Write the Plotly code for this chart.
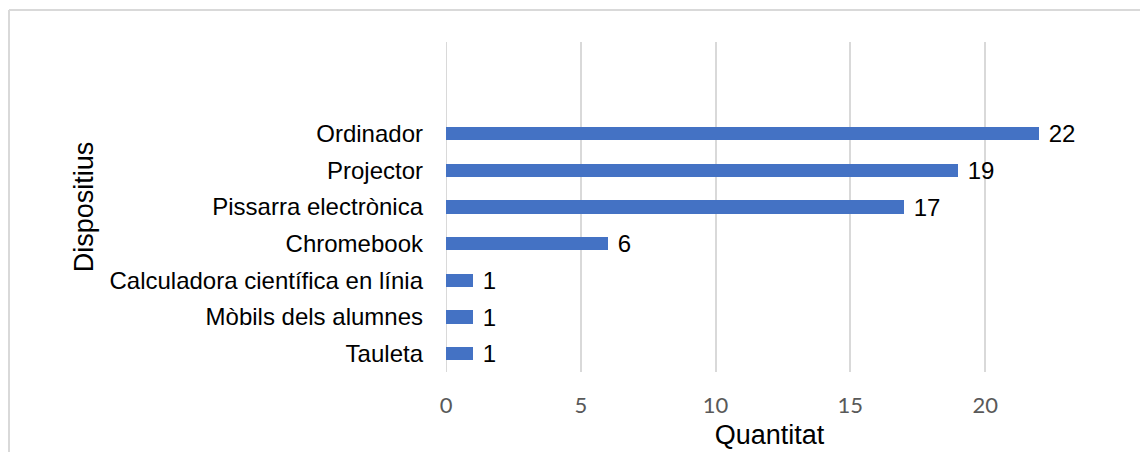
import plotly.graph_objects as go

# Device counts (bottom to top)
categories = ['Tauleta', 'Mòbils dels alumnes', 'Calculadora científica en línia',
              'Chromebook', 'Pissarra electrònica', 'Projector', 'Ordinador']
counts = [1, 1, 1, 6, 17, 19, 22]
x_ticks = [0, 5, 10, 15, 20]

bar_color = '#4472C4'
grid_color = '#d9d9d9'

# page body has an 8px margin, so the figure is sized to fit the window
W, H = 1140, 444
L, R, T, B = 438, 55, 34, 80
pw, ph = W - L - R, H - T - B

fig = go.Figure()

fig.add_trace(go.Bar(
    x=counts,
    y=list(range(len(categories))),
    orientation='h',
    width=0.36,
    marker=dict(color=bar_color, line=dict(width=0)),
    text=[f' {v}' for v in counts],
    textposition='outside',
    constraintext='none',
    textfont=dict(family='Liberation Sans, Arial', size=24, color='#000000'),
    cliponaxis=False,
    showlegend=False
))

fig.update_layout(
    width=W,
    height=H,
    paper_bgcolor='white',
    plot_bgcolor='white',
    margin=dict(l=L, r=R, t=T, b=B),
    bargap=0,
    xaxis=dict(
        range=[0, 24],
        tickvals=x_ticks,
        automargin=False,
        showgrid=True,
        gridcolor=grid_color,
        gridwidth=2,
        zeroline=False,
        showline=False,
        ticks='',
        ticklabelstandoff=18,
        tickfont=dict(family='Lato, Carlito, sans-serif', size=22, color='#595959'),
        title=dict(text='Quantitat', standoff=8,
                   font=dict(family='Liberation Sans, Arial', size=27, color='#000000'))
    ),
    yaxis=dict(
        range=[-0.5, 8.5],
        tickvals=list(range(len(categories))),
        ticktext=categories,
        automargin=False,
        showgrid=False,
        zeroline=False,
        showline=False,
        ticks='',
        ticklabelstandoff=22,
        tickfont=dict(family='Liberation Sans, Arial', size=24, color='#000000'),
        title=dict(text='Dispositius', standoff=8,
                   font=dict(family='Liberation Sans, Arial', size=27, color='#000000'))
    ),
    shapes=[
        # zero gridline
        dict(type='line', xref='x', yref='paper', x0=0, x1=0, y0=0, y1=1,
             line=dict(color=grid_color, width=2), layer='below'),
        # chart border (top and left edges)
        dict(type='line', xref='paper', yref='paper',
             x0=(1 - L) / pw, x1=(W - L) / pw,
             y0=(T + ph - 2) / ph, y1=(T + ph - 2) / ph,
             line=dict(color=grid_color, width=2)),
        dict(type='line', xref='paper', yref='paper',
             x0=(1 - L) / pw, x1=(1 - L) / pw,
             y0=(T + ph - 2) / ph, y1=-B / ph,
             line=dict(color=grid_color, width=2)),
    ]
)

fig.write_html('out.html')
